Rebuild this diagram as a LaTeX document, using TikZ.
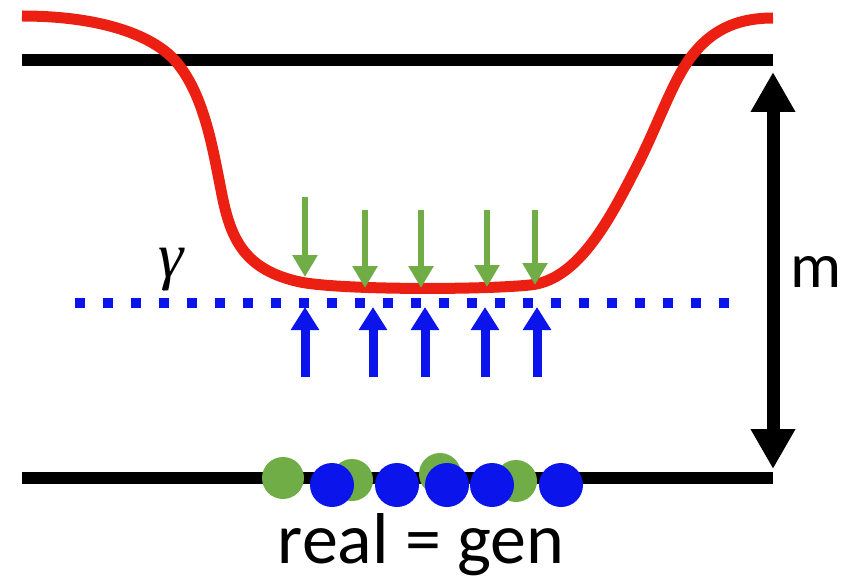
\documentclass[tikz,border=0pt]{standalone}
\usepackage{fontspec}
\setmainfont{Carlito}
\newfontfamily\gfont{Liberation Serif}
\usetikzlibrary{arrows.meta}
\definecolor{redc}{RGB}{236,32,18}
\definecolor{greenc}{RGB}{112,173,71}
\definecolor{bluec}{RGB}{10,20,235}
\begin{document}
\begin{tikzpicture}[x=1pt,y=-1pt,
  baseline/.style={line width=12pt,black},
  greenarrow/.style={greenc,line width=6pt,-{Triangle[width=24pt,length=22pt]}},
  bluearrow/.style={bluec,line width=9pt,-{Triangle[width=27pt,length=23pt]}},
  greendot/.style={fill=greenc,draw=none},
  bluedot/.style={fill=bluec,draw=none},
  ]
\useasboundingbox (0,0) rectangle (854,580);
% base lines
\coordinate (tl) at (22,60); \coordinate (tr) at (773,60);
\coordinate (bl) at (22,478); \coordinate (br) at (773,478);
\draw[baseline] (tl) -- (tr);
\draw[baseline] (bl) -- (br);
% red curve
\draw[redc,line width=11pt] (22,16)
  .. controls (100,16) and (155,35) .. (178,64)
  .. controls (205,98) and (213,150) .. (222,195)
  .. controls (231,240) and (245,270) .. (300,282)
  .. controls (340,290) and (480,290) .. (530,285)
  .. controls (580,280) and (612,215) .. (640,160)
  .. controls (662,115) and (675,75) .. (695,52)
  .. controls (715,28) and (740,18) .. (773,18);
% blue dotted line
\coordinate (dl) at (75,303); \coordinate (dr) at (735,303);
\draw[bluec,line width=10pt,dash pattern=on 10pt off 18pt] (dl) -- (dr);
% gamma
\node[font=\gfont\itshape\fontsize{64}{70}\selectfont] (gam) at (171,270) {γ};
% green arrows
\foreach \x/\t/\b [count=\i] in {305/197/277, 365/210/288, 421/210/288, 487/210/287, 535/210/285}{
  \coordinate (gs\i) at (\x,\t); \coordinate (ge\i) at (\x,\b);
  \draw[greenarrow] (gs\i) -- (ge\i);
}
% blue arrows
\foreach \x [count=\i] in {305,373,425,485,537}{
  \coordinate (bs\i) at (\x,377); \coordinate (be\i) at (\x,307);
  \draw[bluearrow] (bs\i) -- (be\i);
}
% circles
\foreach \x/\y [count=\i] in {283/478, 352/480, 440/474, 516/481}{
  \fill[greendot] (\x,\y) circle (21pt);
}
\foreach \x [count=\i] in {332,397,447,492,561}{
  \fill[bluedot] (\x,485) circle (22pt);
}
% double arrow
\coordinate (at) at (773,72); \coordinate (ab) at (773,469);
\draw[line width=13pt,{Triangle[width=42pt,length=40pt]}-{Triangle[width=42pt,length=40pt]}] (at) -- (ab);
\node[font=\fontsize{64}{70}\selectfont] (m) at (816,272) {m};
\node[font=\fontsize{72}{78}\selectfont,anchor=base] (lab) at (421,563) {real = gen};
\end{tikzpicture}
\end{document}
